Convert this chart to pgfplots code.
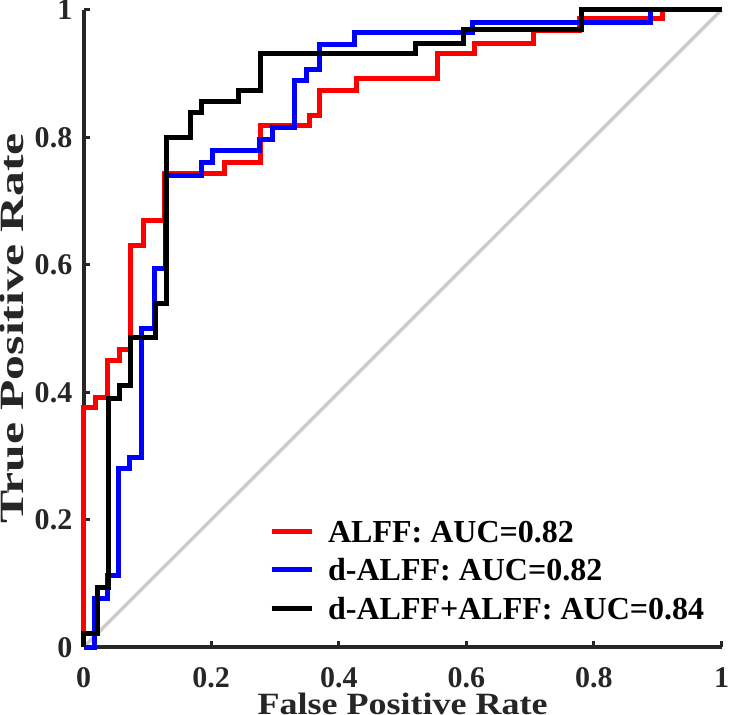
\documentclass[border=0pt]{standalone}
\usepackage{fontspec}
\setmainfont{Liberation Serif}
\usepackage{graphicx}
\usepackage{pgfplots}
\pgfplotsset{compat=1.18}
\definecolor{axisgray}{HTML}{262626}
\definecolor{diaggray}{HTML}{CCCCCC}
\begin{document}
\begin{tikzpicture}
\begin{axis}[
  scale only axis,
  width=318.75pt, height=318.5pt,
  xmin=0, xmax=1, ymin=0, ymax=1,
  clip=false,
  axis x line*=bottom, axis y line*=left,
  axis line style={-, draw=axisgray, line width=2pt},
  xtick={0,0.2,0.4,0.6,0.8,1},
  ytick={0,0.2,0.4,0.6,0.8,1},
  tick align=inside,
  major tick length=3pt,
  tick style={draw=axisgray, line width=1.5pt},
  /pgf/number format/assume math mode=true,
  ticklabel style={font=\fontsize{15}{17}\selectfont\bfseries, text=axisgray, inner sep=0pt},
  xticklabel style={anchor=north, yshift=-10pt},
  yticklabel style={anchor=east, xshift=-5.5pt},
  xlabel={\scalebox{1}[0.86]{False Positive Rate}},
  ylabel={\scalebox{1.46}[1]{True Positive Rate}},
  xlabel style={font=\fontsize{18}{20}\selectfont\bfseries, text=axisgray, inner sep=0pt,
    at={(axis description cs:0.5,0)}, anchor=north, yshift=-22.5pt},
  ylabel style={font=\fontsize{17}{19}\selectfont\bfseries, text=axisgray, inner sep=0pt,
    at={(axis description cs:-0.1318,0.5)}, anchor=north},
  legend style={draw=none, fill=none, at={(0.29,0.2059)}, anchor=north west,
    inner sep=0pt, row sep=4.25pt,
    font=\fontsize{16}{19}\selectfont\bfseries,
    nodes={inner sep=1pt, text height=12pt, text depth=1pt},
    /tikz/every odd column/.append style={column sep=6pt}},
  legend cell align=left,
  legend image code/.code={\draw[#1] (0pt,0pt) -- (20pt,0pt);},
]
\addplot[diaggray, line width=1.75pt, forget plot] coordinates {(0,0) (1,1)};

\addplot[red, line width=2.5pt] coordinates {
(0,0) (0,0.376) (0.019,0.376) (0.019,0.392) (0.038,0.392) (0.038,0.45) (0.056,0.45) (0.056,0.467) (0.074,0.467) (0.074,0.63) (0.094,0.63) (0.094,0.67) (0.127,0.67) (0.127,0.743) (0.221,0.743) (0.221,0.76) (0.278,0.76) (0.278,0.818) (0.354,0.818) (0.354,0.834) (0.370,0.834) (0.370,0.873) (0.427,0.873) (0.427,0.892) (0.555,0.892) (0.555,0.931) (0.613,0.931) (0.613,0.947) (0.706,0.947) (0.706,0.967) (0.778,0.967) (0.778,0.986) (0.908,0.986) (0.908,1) (1,1)};
\addlegendentry{ALFF: AUC=0.82}

\addplot[blue, line width=2.5pt] coordinates {
(0,0) (0.017,0) (0.017,0.077) (0.038,0.077) (0.038,0.113) (0.055,0.113) (0.055,0.28) (0.072,0.28) (0.072,0.298) (0.091,0.298) (0.091,0.50) (0.111,0.50) (0.111,0.595) (0.129,0.595) (0.129,0.74) (0.184,0.74) (0.184,0.76) (0.202,0.76) (0.202,0.779) (0.276,0.779) (0.276,0.797) (0.296,0.797) (0.296,0.815) (0.331,0.815) (0.331,0.89) (0.35,0.89) (0.35,0.907) (0.369,0.907) (0.369,0.945) (0.425,0.945) (0.425,0.964) (0.61,0.964) (0.61,0.981) (0.888,0.981) (0.888,1) (1,1)};
\addlegendentry{d-ALFF: AUC=0.82}

\addplot[black, line width=2.5pt] coordinates {
(0,0) (0,0.022) (0.022,0.022) (0.022,0.094) (0.039,0.094) (0.039,0.39) (0.056,0.39) (0.056,0.41) (0.074,0.41) (0.074,0.486) (0.113,0.486) (0.113,0.54) (0.13,0.54) (0.13,0.80) (0.168,0.80) (0.168,0.839) (0.185,0.839) (0.185,0.857) (0.242,0.857) (0.242,0.874) (0.278,0.874) (0.278,0.931) (0.521,0.931) (0.521,0.948) (0.595,0.948) (0.595,0.969) (0.78,0.969) (0.78,1) (1,1)};
\addlegendentry{d-ALFF+ALFF: AUC=0.84}
\end{axis}
\end{tikzpicture}
\end{document}
